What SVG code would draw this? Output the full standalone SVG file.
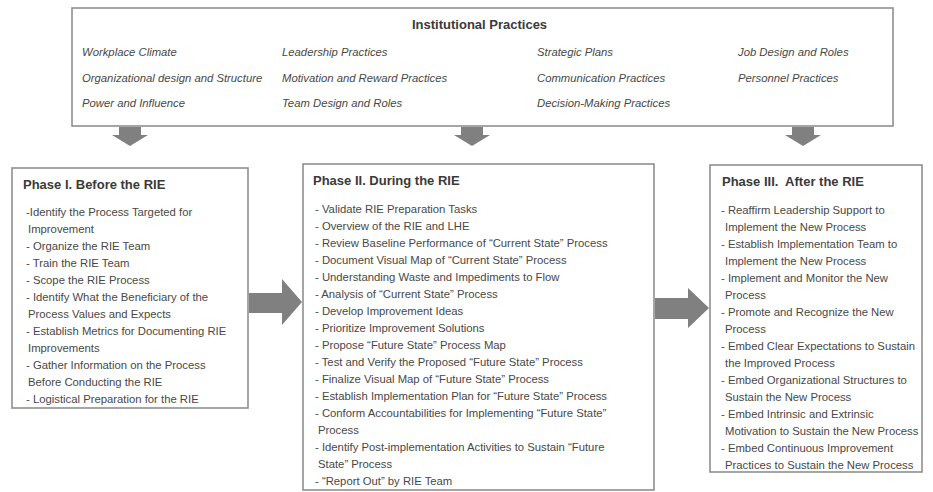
<svg xmlns="http://www.w3.org/2000/svg" width="933" height="492" viewBox="0 0 933 492">
<style>
.box{fill:#ffffff;stroke:#8f8f8f;stroke-width:1.6}
.t{font-family:"Liberation Sans",Arial,sans-serif;font-size:11.3px;fill:#484848}
.i{font-family:"Liberation Sans",Arial,sans-serif;font-size:11.3px;font-style:italic;fill:#484848}
.h{font-family:"Liberation Sans",Arial,sans-serif;font-size:13px;font-weight:bold;fill:#3a3a3a}
.arr{fill:#808080}
</style>
<rect width="933" height="492" fill="#ffffff"/>
<g id="institutional-practices">
<rect class="box" x="72" y="8" width="821" height="118"/>
<text class="h" x="412" y="29">Institutional Practices</text>
<text class="i" x="82" y="55.5">Workplace Climate</text>
<text class="i" x="82" y="81.5">Organizational design and Structure</text>
<text class="i" x="82" y="107">Power and Influence</text>
<text class="i" x="282" y="55.5">Leadership Practices</text>
<text class="i" x="282" y="81.5">Motivation and Reward Practices</text>
<text class="i" x="282" y="107">Team Design and Roles</text>
<text class="i" x="537" y="55.5">Strategic Plans</text>
<text class="i" x="537" y="81.5">Communication Practices</text>
<text class="i" x="537" y="107">Decision-Making Practices</text>
<text class="i" x="738" y="55.5">Job Design and Roles</text>
<text class="i" x="738" y="81.5">Personnel Practices</text>
</g>
<g id="phase-1">
<rect class="box" x="12" y="168" width="236" height="240"/>
<text class="h" x="23" y="188.5">Phase I. Before the RIE</text>
<text class="t" x="26" y="216">-Identify the Process Targeted for</text>
<text class="t" x="28" y="233">Improvement</text>
<text class="t" x="26" y="250">- Organize the RIE Team</text>
<text class="t" x="26" y="267">- Train the RIE Team</text>
<text class="t" x="26" y="284">- Scope the RIE Process</text>
<text class="t" x="26" y="301">- Identify What the Beneficiary of the</text>
<text class="t" x="28" y="318">Process Values and Expects</text>
<text class="t" x="26" y="335">- Establish Metrics for Documenting RIE</text>
<text class="t" x="28" y="352">Improvements</text>
<text class="t" x="26" y="369">- Gather Information on the Process</text>
<text class="t" x="28" y="386">Before Conducting the RIE</text>
<text class="t" x="26" y="403">- Logistical Preparation for the RIE</text>
</g>
<g id="phase-2">
<rect class="box" x="303" y="164" width="351" height="326"/>
<text class="h" x="313" y="185">Phase II. During the RIE</text>
<text class="t" x="315" y="213">- Validate RIE Preparation Tasks</text>
<text class="t" x="315" y="230">- Overview of the RIE and LHE</text>
<text class="t" x="315" y="247">- Review Baseline Performance of “Current State” Process</text>
<text class="t" x="315" y="264">- Document Visual Map of “Current State” Process</text>
<text class="t" x="315" y="281">- Understanding Waste and Impediments to Flow</text>
<text class="t" x="315" y="298">- Analysis of “Current State” Process</text>
<text class="t" x="315" y="315">- Develop Improvement Ideas</text>
<text class="t" x="315" y="332">- Prioritize Improvement Solutions</text>
<text class="t" x="315" y="349">- Propose “Future State” Process Map</text>
<text class="t" x="315" y="366">- Test and Verify the Proposed “Future State” Process</text>
<text class="t" x="315" y="383">- Finalize Visual Map of “Future State” Process</text>
<text class="t" x="315" y="400">- Establish Implementation Plan for “Future State” Process</text>
<text class="t" x="315" y="417">- Conform Accountabilities for Implementing “Future State”</text>
<text class="t" x="318" y="434">Process</text>
<text class="t" x="315" y="451">- Identify Post-implementation Activities to Sustain “Future</text>
<text class="t" x="318" y="468">State” Process</text>
<text class="t" x="315" y="485">- “Report Out” by RIE Team</text>
</g>
<g id="phase-3">
<rect class="box" x="710" y="165" width="212" height="307"/>
<text class="h" x="722" y="186" xml:space="preserve">Phase III.  After the RIE</text>
<text class="t" x="721" y="214">- Reaffirm Leadership Support to</text>
<text class="t" x="725" y="231">Implement the New Process</text>
<text class="t" x="721" y="248">- Establish Implementation Team to</text>
<text class="t" x="725" y="265">Implement the New Process</text>
<text class="t" x="721" y="282">- Implement and Monitor the New</text>
<text class="t" x="725" y="299">Process</text>
<text class="t" x="721" y="316">- Promote and Recognize the New</text>
<text class="t" x="725" y="333">Process</text>
<text class="t" x="721" y="350">- Embed Clear Expectations to Sustain</text>
<text class="t" x="725" y="367">the Improved Process</text>
<text class="t" x="721" y="384">- Embed Organizational Structures to</text>
<text class="t" x="725" y="401">Sustain the New Process</text>
<text class="t" x="721" y="418">- Embed Intrinsic and Extrinsic</text>
<text class="t" x="725" y="435">Motivation to Sustain the New Process</text>
<text class="t" x="721" y="452">- Embed Continuous Improvement</text>
<text class="t" x="725" y="469">Practices to Sustain the New Process</text>
</g>
<g id="connectors">
<polygon class="arr" points="119,127 141,127 141,135 148,135 130,146 112,135 119,135"/>
<polygon class="arr" points="461,127 483,127 483,135 490,135 472,146 454,135 461,135"/>
<polygon class="arr" points="792,127 814,127 814,135 821,135 803,146 785,135 792,135"/>
<polygon class="arr" points="249,293 282,293 282,279 302,302 282,325 282,313 249,313"/>
<polygon class="arr" points="655,298 688,298 688,288 709,308 688,328 688,319 655,319"/>
</g>
</svg>
